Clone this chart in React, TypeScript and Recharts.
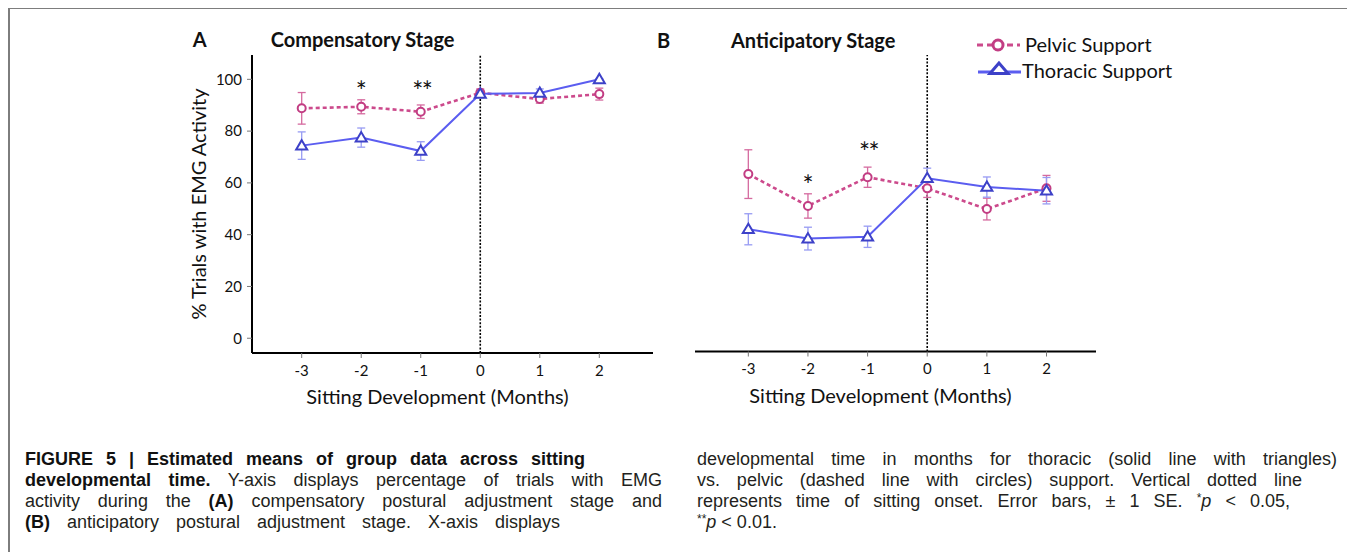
import React from 'react';
import { ComposedChart, Line, XAxis, YAxis, ErrorBar, ReferenceLine, ReferenceDot } from 'recharts';

// ---------- data ----------
const months = [-3, -2, -1, 0, 1, 2];
const yTicks = [0, 20, 40, 60, 80, 100];

// Panel A: Compensatory stage
const pelvicA = [88.8, 89.4, 87.5, 94.8, 92.4, 94.3];
const pelvicAErr = [6.1, 2.7, 2.6, 1.5, 1.6, 2.3];
const thoracicA = [74.4, 77.5, 72.3, 94.4, 94.7, 100.0];
const thoracicAErr = [5.3, 3.7, 3.6, 1.5, 1.6, 0.3];

// Panel B: Anticipatory stage
const pelvicB = [63.4, 51.1, 62.2, 57.9, 49.9, 57.9];
const pelvicBErr = [9.4, 4.7, 3.9, 3.5, 4.2, 5.0];
const thoracicB = [42.1, 38.5, 39.2, 61.8, 58.4, 57.0];
const thoracicBErr = [6.0, 4.4, 4.1, 3.9, 3.9, 5.1];

// significance marks
const sigA = [
  { m: -2, v: 97.1, mark: '*' },
  { m: -1, v: 97.1, mark: '**' },
];
const sigB = [
  { m: -2, v: 60.8, mark: '*' },
  { m: -1, v: 73.4, mark: '**' },
];

// ---------- styles ----------
const PINK = '#cc4a8c';
const PINK_DOT = '#c23d83';
const PINK_ERR = '#d56a9f';
const BLUE = '#5b5df0';
const BLUE_DOT = '#3d41c8';
const BLUE_ERR = '#979bf3';
const FONT = 'Lato, "Open Sans", sans-serif';

const buildRows = (p: number[], pe: number[], t: number[], te: number[]) =>
  months.map((m, i) => ({ m, p: p[i], pe: pe[i], t: t[i], te: te[i] }));

const rowsA = buildRows(pelvicA, pelvicAErr, thoracicA, thoracicAErr);
const rowsB = buildRows(pelvicB, pelvicBErr, thoracicB, thoracicBErr);

const CircleDot = (props: any) => {
  const { cx, cy, index } = props;
  if (cx == null || cy == null) return null;
  return <circle key={`c${index}`} cx={cx} cy={cy} r={4} fill="#fff" stroke={PINK_DOT} strokeWidth={2} />;
};

const TriDot = (props: any) => {
  const { cx, cy, index } = props;
  if (cx == null || cy == null) return null;
  const pts = `${cx},${cy - 5.5} ${cx - 5.5},${cy + 3.8} ${cx + 5.5},${cy + 3.8}`;
  return <polygon key={`t${index}`} points={pts} fill="#fff" stroke={BLUE_DOT} strokeWidth={2} strokeLinejoin="miter" />;
};

const YTitle = (props: any) => {
  const { x, y, height } = props.viewBox;
  const cx = x + 14;
  const cy = y + height / 2;
  return (
    <text x={cx} y={cy} transform={`rotate(-90 ${cx} ${cy})`} textAnchor="middle" fontSize={20} fill="#111" fontFamily={FONT}>
      % Trials with EMG Activity
    </text>
  );
};

const XTitle = (props: any) => {
  const { x, y, width } = props.viewBox;
  return (
    <text x={x + width / 2 - 15} y={y + 51} textAnchor="middle" fontSize={20} fill="#111" fontFamily={FONT}>
      Sitting Development (Months)
    </text>
  );
};

const starShape = (mark: string) => (p: any) => (
  <text
    x={p.cx + (mark.length > 1 ? 1 : 0)}
    y={p.cy + 14}
    textAnchor="middle"
    fontSize={26}
    letterSpacing={mark.length > 1 ? -1.5 : 0}
    fill="#111"
    fontFamily={FONT}
  >
    {mark}
  </text>
);

type PanelProps = {
  rows: any[];
  sig: { m: number; v: number; mark: string }[];
  width: number;
  margin: any;
  xDomain: [number, number];
  yDomain: [number, number];
  showY: boolean;
};

const Panel = ({ rows, sig, width, margin, xDomain, yDomain, showY }: PanelProps) => (
  <ComposedChart width={width} height={400} data={rows} margin={margin}>
    <XAxis
      dataKey="m"
      type="number"
      domain={xDomain}
      ticks={months}
      interval={0}
      allowDataOverflow
      height={30}
      tickSize={5}
      tickMargin={7}
      axisLine={{ stroke: '#000', strokeWidth: 2 }}
      tickLine={{ stroke: '#777' }}
      tick={{ fill: '#111', fontSize: 15, fontFamily: FONT }}
      label={(p: any) => <XTitle {...p} />}
    />
    {showY ? (
      <YAxis
        type="number"
        domain={yDomain}
        ticks={yTicks}
        allowDataOverflow
        width={60}
        tickSize={5}
        tickMargin={5}
        axisLine={{ stroke: '#000', strokeWidth: 2 }}
        tickLine={{ stroke: '#777' }}
        tick={{ fill: '#111', fontSize: 15, fontFamily: FONT }}
        label={(p: any) => <YTitle {...p} />}
      />
    ) : (
      <YAxis type="number" domain={yDomain} allowDataOverflow hide />
    )}
    <ReferenceLine x={0} stroke="#000" strokeWidth={1.6} strokeDasharray="2 1.6" />
    <Line
      type="linear"
      dataKey="p"
      stroke={PINK}
      strokeWidth={2.6}
      strokeDasharray="4 3"
      dot={CircleDot}
      activeDot={false}
      isAnimationActive={false}
    >
      <ErrorBar dataKey="pe" direction="y" width={4} stroke={PINK_ERR} strokeWidth={1.3} isAnimationActive={false} />
    </Line>
    <Line
      type="linear"
      dataKey="t"
      stroke={BLUE}
      strokeWidth={2}
      dot={TriDot}
      activeDot={false}
      isAnimationActive={false}
    >
      <ErrorBar dataKey="te" direction="y" width={4} stroke={BLUE_ERR} strokeWidth={1.3} isAnimationActive={false} />
    </Line>
    {sig.map((s, i) => (
      <ReferenceDot key={i} x={s.m} y={s.v} r={0} shape={starShape(s.mark)} />
    ))}
  </ComposedChart>
);

const captionBase: React.CSSProperties = {
  position: 'absolute',
  fontFamily: '"Liberation Sans", Arial, sans-serif',
  fontSize: 18,
  lineHeight: '21px',
  color: '#231f20',
  textAlign: 'justify',
};

const B = ({ children }: any) => <b style={{ fontWeight: 700, color: '#111' }}>{children}</b>;
const I = ({ children }: any) => <i>{children}</i>;
const Sup = ({ children }: any) => (
  <span style={{ fontSize: 12, position: 'relative', top: -5, lineHeight: 0 }}>{children}</span>
);

const captionLines = [
  { x: 25, w: 560, c: <B>FIGURE 5 | Estimated means of group data across sitting</B> },
  { x: 25, w: 637, c: <><B>developmental time.</B> Y-axis displays percentage of trials with EMG</> },
  { x: 25, w: 637, c: <>activity during the <B>(A)</B> compensatory postural adjustment stage and</> },
  { x: 25, w: 535, c: <><B>(B)</B> anticipatory postural adjustment stage. X-axis displays</> },
  { x: 697, w: 640, c: <>developmental time in months for thoracic (solid line with triangles)</> },
  { x: 697, w: 605, c: <>vs. pelvic (dashed line with circles) support. Vertical dotted line</> },
  { x: 697, w: 593, c: <>represents time of sitting onset. Error bars, ± 1 SE. <Sup>*</Sup><I>p</I> &lt; 0.05,</> },
  { x: 697, w: 0, c: <><Sup>**</Sup><I>p</I> &lt; 0.01.</> },
];
const captionRow = [0, 1, 2, 3, 0, 1, 2, 3];

export default function App() {
  return (
    <div style={{ position: 'relative', width: 1344, height: 544, fontFamily: FONT, background: '#fff' }}>
      <div
        style={{
          position: 'absolute',
          left: 0,
          top: -1,
          width: 1344,
          height: 600,
          border: '2px solid #7d7d7d',
          boxSizing: 'border-box',
        }}
      />
      <div style={{ position: 'absolute', left: 152, top: 12 }}>
        <Panel
          rows={rowsA}
          sig={sigA}
          width={500}
          margin={{ top: 35, right: 7, bottom: 37, left: 32 }}
          xDomain={[-3.835, 2.902]}
          yDomain={[-5.7, 109.4]}
          showY
        />
      </div>
      <div style={{ position: 'absolute', left: 632, top: 12 }}>
        <Panel
          rows={rowsB}
          sig={sigB}
          width={470}
          margin={{ top: 35, right: 14, bottom: 38.5, left: 55 }}
          xDomain={[-3.894, 2.83]}
          yDomain={[-5.1, 109.4]}
          showY={false}
        />
      </div>
      <svg style={{ position: 'absolute', left: 0, top: 0, pointerEvents: 'none' }} width={1344} height={120}>
        <g transform="translate(-8,-8)" fontFamily={FONT} fill="#111">
          <text x={192.7} y={46.7} fontSize={20} fontWeight={700}>A</text>
          <text x={270.7} y={46.7} fontSize={20} fontWeight={700}>Compensatory Stage</text>
          <text x={657} y={47.8} fontSize={20} fontWeight={700}>B</text>
          <text x={731} y={47.8} fontSize={20} fontWeight={700}>Anticipatory Stage</text>
          <line x1={977} x2={1020} y1={45} y2={45} stroke={PINK} strokeWidth={3} strokeDasharray="6 4" />
          <circle cx={998} cy={45} r={5} fill="#fff" stroke={PINK_DOT} strokeWidth={3} />
          <text x={1025} y={51.5} fontSize={20}>Pelvic Support</text>
          <line x1={978} x2={1021} y1={72} y2={72} stroke={BLUE} strokeWidth={3} />
          <polygon points="999,63 990,73.6 1008,73.6" fill="#fff" stroke={BLUE_DOT} strokeWidth={3} />
          <text x={1022} y={78} fontSize={20}>Thoracic Support</text>
        </g>
      </svg>
      {captionLines.map((l, i) => (
        <div
          key={i}
          style={{
            ...captionBase,
            left: l.x - 8,
            top: 449 - 8 + captionRow[i] * 21,
            width: l.w || undefined,
            whiteSpace: l.w ? 'normal' : 'nowrap',
            textAlignLast: (l.w ? 'justify' : 'left') as any,
          }}
        >
          {l.c}
        </div>
      ))}
    </div>
  );
}
